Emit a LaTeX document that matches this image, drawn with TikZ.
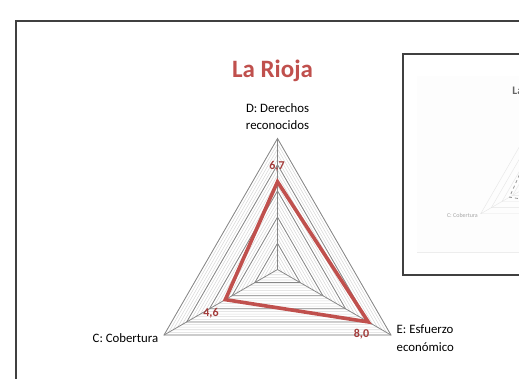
\documentclass[tikz,border=0pt]{standalone}
\usepackage{fontspec}
\setmainfont{Carlito}
\definecolor{rojo}{HTML}{C0504D}
\definecolor{rojolab}{HTML}{A33B3A}
\definecolor{marco}{HTML}{404040}
\begin{document}
\begin{tikzpicture}[x=1pt,y=-1pt,
  frame/.style={draw=marco,line width=1.6pt},
  minorgrid/.style={draw=black!15,line width=0.55pt},
  majorgrid/.style={draw=black!47,line width=0.8pt},
  series/.style={draw=rojo,line width=3.6pt,line join=miter},
  axislabel/.style={font=\fontsize{12.8}{17.5}\selectfont,text=black,inner sep=0pt},
  vallabel/.style={font=\fontsize{12}{13}\selectfont\bfseries,text=rojolab,inner sep=0pt},
  titlelabel/.style={font=\fontsize{25}{28}\selectfont\bfseries,text=rojo,inner sep=0pt},
  thumbgrid/.style={draw=black!10,line width=0.4pt},
  thumbseries/.style={draw=black!40,line width=0.8pt,dashed},
  thumbtext/.style={font=\fontsize{6}{8.2}\selectfont,text=black!35,inner sep=0pt}]
\useasboundingbox (0,0) rectangle (519,378);
\clip (0,0) rectangle (519,378);
% outer frame
\draw[frame] (540,21) -- (16,21) -- (16,400);
% main radar
\begin{scope}[shift={(277.5,269.5)}]
  \foreach \i in {1,...,25}
    \draw[minorgrid] (-90:{\i*5.24}) -- (30:{\i*5.24}) -- (150:{\i*5.24}) -- cycle;
  \foreach \i in {1,...,5}
    \draw[majorgrid] (-90:{\i*26.2}) -- (30:{\i*26.2}) -- (150:{\i*26.2}) -- cycle;
  \coordinate (o) at (0,0);
  \coordinate (aD) at (-90:131);
  \coordinate (aE) at (30:131);
  \coordinate (aC) at (150:131);
  \draw[majorgrid] (o) -- (aD);
  \draw[majorgrid] (o) -- (aE);
  \draw[majorgrid] (o) -- (aC);
  \coordinate (pD) at (-90:87.77);
  \coordinate (pE) at (30:104.8);
  \coordinate (pC) at (150:60.26);
  \draw[series] (pD) -- (pE) -- (pC) -- cycle;
\end{scope}
% labels
\node[titlelabel,anchor=base] (title) at (272.5,77.7) {La Rioja};
\node[axislabel,align=center,anchor=center] (lD) at (277.5,116.5) {D: Derechos\\reconocidos};
\node[axislabel,anchor=east] (lC) at (158.5,338) {C: Cobertura};
\node[axislabel,align=left,anchor=west] (lE) at (396.5,338) {E: Esfuerzo\\económico};
\node[vallabel,anchor=base] (vD) at (277,169.5) {6,7};
\node[vallabel,anchor=base] (vC) at (211,316) {4,6};
\node[vallabel,anchor=base] (vE) at (361.5,337.5) {8,0};
% inner thumbnail box
\fill[black!0.7] (417,76) rectangle (540,252);
\draw[black!7,line width=0.6pt] (417,252) -- (540,252);
\begin{scope}[shift={(534,183)},scale=0.47]
  \foreach \i in {1,...,5}
    \draw[thumbgrid] (-90:{\i*26.2}) -- (30:{\i*26.2}) -- (150:{\i*26.2}) -- cycle;
  \coordinate (to) at (0,0);
  \coordinate (tD) at (-90:131);
  \coordinate (tE) at (30:131);
  \coordinate (tC) at (150:131);
  \draw[thumbgrid] (to) -- (tD);
  \draw[thumbgrid] (to) -- (tE);
  \draw[thumbgrid] (to) -- (tC);
  \coordinate (qD) at (-90:87.77);
  \coordinate (qE) at (30:104.8);
  \coordinate (qC) at (150:60.26);
  \draw[thumbseries] (qD) -- (qE) -- (qC) -- cycle;
\end{scope}
\node[font=\fontsize{11.5}{13}\selectfont\bfseries,text=black!60,inner sep=0pt,anchor=base] (ttitle) at (531,94) {La Rioja};
\node[thumbtext,align=center,anchor=center] (tlD) at (534,111) {D: Derechos\\reconocidos};
\node[thumbtext,anchor=east] (tlC) at (478,215) {C: Cobertura};
\draw[frame,line width=1.4pt] (540,54) -- (403,54) -- (403,275) -- (540,275);
\end{tikzpicture}
\end{document}
